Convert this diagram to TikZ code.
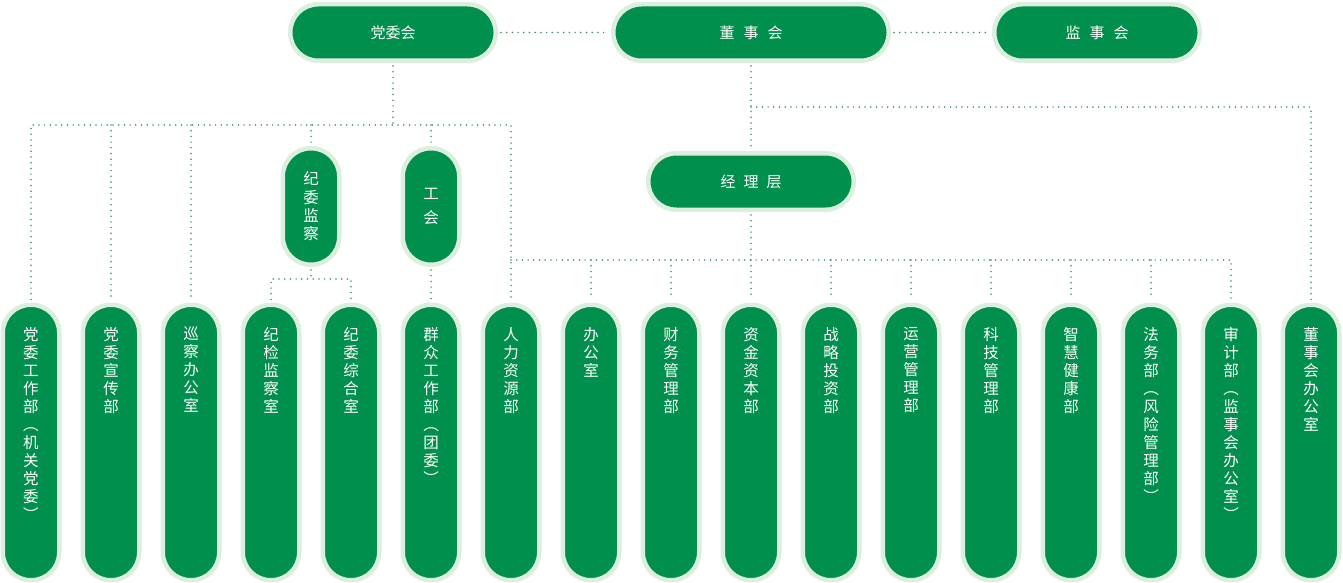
\documentclass[tikz,border=0pt]{standalone}
\usepackage{fontspec}
\newfontfamily\cjk{Noto Sans CJK SC}
\definecolor{boxgreen}{HTML}{008F4C}
\definecolor{ringgreen}{HTML}{DCEEDE}
\definecolor{dotgreen}{HTML}{3F8F60}
\tikzset{
  pill/.style={draw=ringgreen, fill=boxgreen, line width=4.5pt, rounded corners=28pt, inner sep=0pt},
  hbox/.style={pill, minimum width=#1, minimum height=56.5pt, text=white, font=\cjk\fontsize{15}{18}\selectfont},
  vbox/.style={pill, minimum width=56.5pt, minimum height=116.5pt, text=white, align=center, font=\cjk\fontsize{15.5}{18.3}\selectfont},
  colbox/.style={pill, minimum width=56.5pt, minimum height=275.5pt},
  coltext/.style={anchor=north, inner sep=0pt, text=white, align=center, font=\cjk\fontsize{15.5}{18}\selectfont},
  conn/.style={draw=dotgreen, line width=1.7pt, line cap=round, dash pattern=on 0pt off 5.7pt},
  tonode/.style={conn, shorten >=3pt},
  fromnode/.style={conn, shorten <=3pt},
  bothnode/.style={conn, shorten <=3pt, shorten >=3pt}
}
\begin{document}
\begin{tikzpicture}[x=1pt,y=-1pt]
\useasboundingbox (0,0) rectangle (1343,583);

% top level
\node[hbox=205.5pt] (dw) at (393,32.5) {党委会};
\node[hbox=275.5pt] (dsh) at (751,32.5) {董\hspace{9pt}事\hspace{9pt}会};
\node[hbox=205.5pt] (jsh) at (1097,32.5) {监\hspace{9pt}事\hspace{9pt}会};
\node[hbox=205.5pt] (jlc) at (751,181.5) {经\hspace{8pt}理\hspace{8pt}层};
\node[vbox] (jw) at (311,206.5) {纪\\委\\监\\察};
\node[vbox] (gh) at (431,206.5) {工\\[5pt]会};

% columns
\foreach \i/\t in {0/{党\\委\\工\\作\\部\\︵\\机\\关\\党\\委\\︶},
                   1/{党\\委\\宣\\传\\部},
                   2/{巡\\察\\办\\公\\室},
                   3/{纪\\检\\监\\察\\室},
                   4/{纪\\委\\综\\合\\室},
                   5/{群\\众\\工\\作\\部\\︵\\团\\委\\︶},
                   6/{人\\力\\资\\源\\部},
                   7/{办\\公\\室},
                   8/{财\\务\\管\\理\\部},
                   9/{资\\金\\资\\本\\部},
                   10/{战\\略\\投\\资\\部},
                   11/{运\\营\\管\\理\\部},
                   12/{科\\技\\管\\理\\部},
                   13/{智\\慧\\健\\康\\部},
                   14/{法\\务\\部\\︵\\风\\险\\管\\理\\部\\︶},
                   15/{审\\计\\部\\︵\\监\\事\\会\\办\\公\\室\\︶},
                   16/{董\\事\\会\\办\\公\\室}}{
  \node[colbox] (c\i) at (31+80*\i,442.5) {};
  \node[coltext] (t\i) at ([yshift=-24.5pt]c\i.north) {\t};
}

% connectors between top nodes
\draw[bothnode] (dw.east) -- (dsh.west);
\draw[bothnode] (dsh.east) -- (jsh.west);

% party committee bus
\coordinate (pb) at (393,125);
\draw[fromnode] (dw.south) -- (pb);
\draw[bothnode] (c0.north) |- (pb) -| (c6.north);
\draw[tonode] (c1.north |- pb) -- (c1.north);
\draw[tonode] (c2.north |- pb) -- (c2.north);
\draw[tonode] (jw.north |- pb) -- (jw.north);
\draw[tonode] (gh.north |- pb) -- (gh.north);

% discipline inspection
\coordinate (jb) at (311,279);
\draw[fromnode] (jw.south) -- (jb);
\draw[bothnode] (c3.north) |- (jb) -| (c4.north);

% trade union
\draw[bothnode] (gh.south) -- (c5.north);

% board
\draw[bothnode] (dsh.south) -- (jlc.north);
\coordinate (db) at (751,107);
\draw[tonode] (db) -| (c16.north);

% management bus
\coordinate (mb) at (751,260);
\draw[fromnode] (jlc.south) -- (mb);
\draw[tonode] (c6.north |- mb) -| (c15.north);
\foreach \i in {7,...,14}{
  \draw[tonode] (c\i.north |- mb) -- (c\i.north);
}
\end{tikzpicture}
\end{document}
